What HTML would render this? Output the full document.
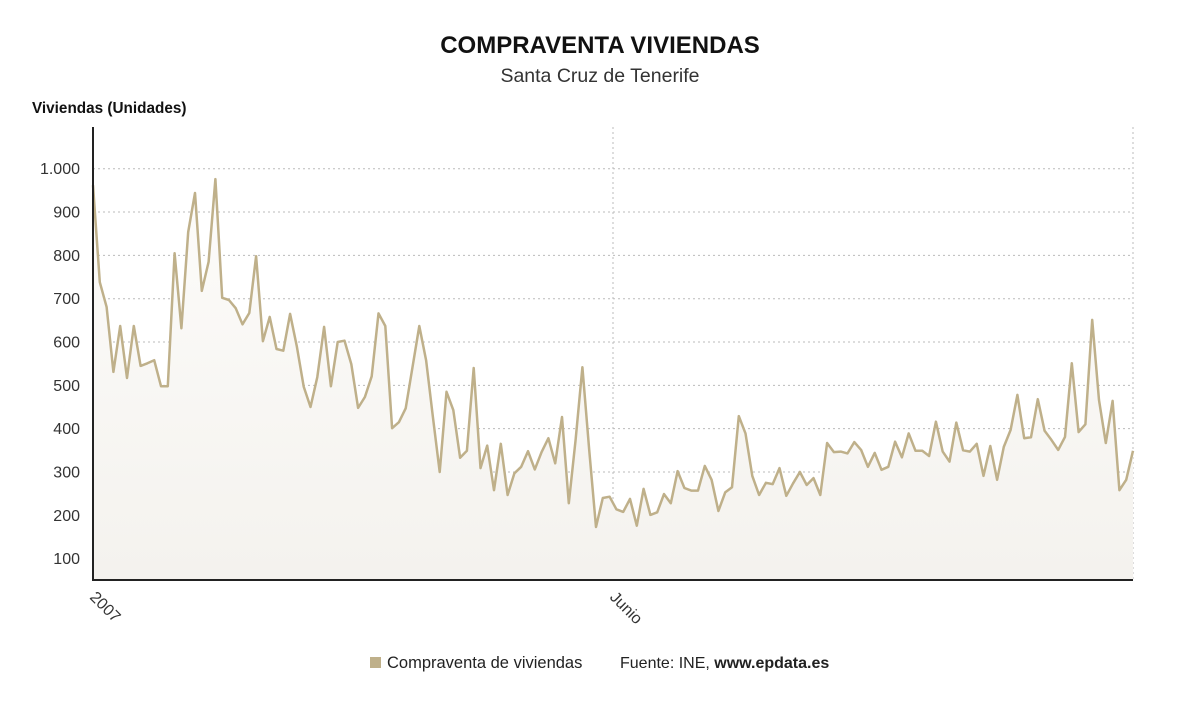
<!DOCTYPE html>
<html><head><meta charset="utf-8"><style>
body{margin:0;background:#fff;font-family:"Liberation Sans",sans-serif;}
svg{display:block}
</style></head><body>
<svg width="1200" height="705">
<defs><linearGradient id="g" x1="0" y1="0" x2="0" y2="1"><stop offset="0" stop-color="#fdfcfa"/><stop offset="1" stop-color="#f4f2ee"/></linearGradient></defs>
<text x="600" y="53" text-anchor="middle" font-size="24" font-weight="bold" fill="#111">COMPRAVENTA VIVIENDAS</text>
<text x="600" y="82" text-anchor="middle" font-size="19.5" fill="#333">Santa Cruz de Tenerife</text>
<text x="32" y="113" font-size="15.3" font-weight="bold" fill="#111">Viviendas (Unidades)</text>
<g id="grid"></g><g id="plot"></g><g id="axes"></g>
<g>
<rect x="370" y="657" width="11" height="11" fill="#bfb08a"/>
<text x="387" y="668" font-size="16.5" fill="#222">Compraventa de viviendas</text>
<text x="620" y="668" font-size="16" fill="#222">Fuente: INE, <tspan font-weight="bold">www.epdata.es</tspan></text>
</g>
</svg>
<script>
const yTicks=[100,200,300,400,500,600,700,800,900,1000];
const yTickLabels=["100","200","300","400","500","600","700","800","900","1.000"];
const xLabels=["2007","Junio"];
const xLabelIdx=[0,76.5];
const values=[962,738,681,531,637,517,637,545,551,558,498,498,805,632,854,944,718,785,976,702,697,678,641,667,798,602,658,584,580,665,589,497,450,519,635,498,600,603,549,448,473,521,666,637,401,415,447,542,637,558,427,300,485,
443,333,349,540,309,361,258,365,247,297,312,348,306,346,378,320,427,228,374,542,351,173,240,243,214,208,238,176,261,201,207,249,228,302,263,257,257,314,282,210,253,265,429,389,291,247,275,272,309,245,274,
300,270,286,247,367,346,347,343,369,351,312,344,305,312,370,334,389,349,349,337,416,347,324,414,350,347,365,291,360,282,358,397,478,378,380,468,395,374,351,381,551,392,410,651,466,367,464,258,282,349];
const NS="http://www.w3.org/2000/svg";
const X0=93,X1=1133,YB=580,YT=127;
const x=i=>X0+i*(X1-X0)/(values.length-1);
const y=v=>602-v*0.4333;
function mk(t,a,p){const e=document.createElementNS(NS,t);for(const k in a)e.setAttribute(k,a[k]);p.appendChild(e);return e;}
const grid=document.getElementById('grid'),plot=document.getElementById('plot'),axes=document.getElementById('axes');
yTicks.forEach((v,i)=>{
 const l=mk('line',{x1:X0,x2:X1,y1:y(v),y2:y(v),stroke:'#bbb','stroke-dasharray':'2,3'},grid);
 
 
 const t=mk('text',{x:80,y:y(v)+5.5,'text-anchor':'end','font-size':16,fill:'#333'},axes);
 t.textContent=yTickLabels[i];
 
 
});
xLabelIdx.forEach((ix,i)=>{
 const xx=x(ix);
 if(i>0){const v=mk('line',{x1:xx,x2:xx,y1:YT,y2:YB,stroke:'#bbb','stroke-dasharray':'2,3'},grid);
 
 }
 const t=mk('text',{x:xx-4,y:598,'font-size':16,fill:'#333',transform:`rotate(45 ${xx-4} 598)`},axes);
 t.textContent=xLabels[i];
 
 
});
const r=mk('line',{x1:X1,x2:X1,y1:YT,y2:YB,stroke:'#bbb','stroke-dasharray':'2,3'},grid);


let d=values.map((v,i)=>(i?'L':'M')+x(i).toFixed(1)+','+y(v).toFixed(1)).join('');
const area=mk('path',{d:d+`L${X1},${YB}L${X0},${YB}Z`,fill:'url(#g)'},plot);


const line=mk('path',{d:d,fill:'none',stroke:'#bfb08a','stroke-width':2.5,'stroke-linejoin':'round'},plot);


const ya=mk('line',{x1:X0,x2:X0,y1:YT,y2:YB,stroke:'#222','stroke-width':2},axes);


const xa=mk('line',{x1:X0-1,x2:X1,y1:YB,y2:YB,stroke:'#222','stroke-width':2},axes);


</script>
</body></html>
